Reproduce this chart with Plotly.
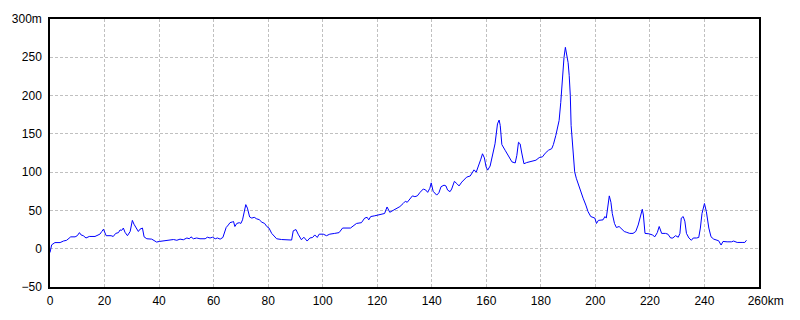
import plotly.graph_objects as go

distance_km = [
    0.0, 0.3, 0.6, 1.8, 3.7, 4.9, 6.1, 7.6, 9.2, 10.0, 10.8, 11.4, 12.2, 13.2, 14.4, 16.5, 17.4, 18.3, 19.0, 19.6,
    20.6, 21.4, 22.4, 23.2, 24.1, 25.1, 25.7, 26.3, 26.9, 27.5, 28.4, 29.4, 30.2, 30.8, 31.6, 32.4, 33.0, 33.9,
    34.5, 35.5, 37.3, 38.2, 39.1, 40.1, 41.6, 44.0, 45.3, 46.5, 47.7, 48.9, 50.2, 51.1, 51.7, 52.6, 53.8, 55.0,
    56.9, 57.7, 58.7, 59.6, 60.6, 61.4, 62.4, 63.4, 64.6, 65.4, 66.0, 66.9, 67.3, 67.8, 68.5, 69.4, 70.0, 70.6,
    71.2, 71.8, 72.4, 73.2, 74.0, 74.9, 75.8, 76.7, 77.7, 78.7, 79.5, 80.3, 81.3, 82.2, 83.1, 84.9, 86.7, 88.6,
    89.2, 90.2, 91.0, 92.2, 93.1, 94.3, 95.3, 96.3, 97.1, 98.0, 98.7, 100.2, 101.4, 102.6, 104.4, 106.0, 107.3,
    110.2, 112.4, 114.2, 115.4, 116.3, 116.9, 117.6, 119.1, 120.9, 122.7, 123.6, 124.6, 125.8, 127.0, 128.3,
    129.5, 130.3, 131.0, 131.9, 132.9, 133.8, 134.7, 135.7, 136.9, 137.8, 138.5, 139.3, 139.8, 140.5, 141.8,
    142.6, 143.4, 144.5, 145.2, 145.8, 146.7, 147.3, 148.3, 149.2, 150.0, 151.0, 151.9, 152.8, 154.1, 154.9,
    155.5, 156.3, 157.1, 158.0, 158.6, 159.3, 159.9, 160.5, 161.4, 162.4, 163.2, 164.1, 164.7, 165.1, 165.7,
    166.9, 168.2, 169.4, 170.6, 171.2, 171.8, 172.4, 173.0, 173.8, 174.8, 175.8, 177.0, 178.2, 179.4, 180.6,
    181.6, 182.8, 184.0, 184.6, 185.5, 186.1, 186.7, 187.3, 187.9, 188.5, 189.0, 189.5, 190.0, 190.4, 190.8,
    191.1, 191.6, 192.0, 192.4, 193.0, 193.8, 194.6, 195.5, 196.5, 197.3, 198.3, 199.1, 199.8, 200.4, 201.1,
    202.8, 203.5, 204.0, 204.5, 205.1, 205.7, 206.2, 207.0, 207.7, 208.7, 209.6, 210.6, 211.3, 212.6, 213.8,
    214.8, 215.7, 216.6, 217.2, 217.6, 218.2, 219.6, 220.9, 221.8, 222.7, 223.4, 224.3, 225.7, 226.6, 227.6,
    228.4, 229.4, 230.4, 231.0, 231.5, 232.2, 232.8, 233.4, 234.3, 235.2, 235.9, 237.1, 237.9, 238.5, 239.1,
    240.0, 240.7, 241.6, 242.4, 243.4, 244.6, 245.2, 246.1, 246.8, 248.3, 249.9, 250.7, 252.0, 253.8, 254.8,
    255.4,
]

elevation_m = [
    -5, 4, 5, 8, 8, 10, 11, 15.5, 15.5, 17, 21, 18, 17, 14, 16, 16, 18, 19, 22.5, 25.5,
    17, 17, 17, 16, 20, 21, 24.5, 24, 27, 21.5, 17, 22.5, 37, 32, 27.7, 22.5, 25.5, 27,
    15.5, 13, 12.5, 11, 8.7, 9.5, 10.4, 11, 12, 11, 12.5, 11.7, 14, 13, 15.5, 13, 14, 13,
    13, 15, 14, 15, 13, 14, 12.5, 14.7, 27.7, 31, 34, 35, 35.5, 29, 33, 34, 33, 37.7,
    48.5, 57.6, 53, 41.5, 40, 41, 39, 38, 34.6, 33, 29, 27, 20, 16.5, 13, 12, 12, 11.3,
    23.4, 25, 19, 11.7, 15, 10, 14, 14.7, 18, 14.7, 19, 19, 17, 19, 20, 21, 27,
    27, 33, 34, 40, 41, 37.7, 42, 43, 45, 46, 54.5, 47.6, 50, 52, 55,
    59, 62, 60.6, 65, 69, 68, 69, 73.6, 78, 76.6, 73.6, 79, 86, 75, 70,
    73, 81, 83, 82, 76.6, 74.5, 78, 88, 85, 82, 87, 91, 93.5, 95, 100,
    103, 100, 107, 117, 124, 118.6, 107, 102.6, 108, 122, 137, 163, 168, 161, 136,
    128.6, 120, 113.4, 112, 122, 139, 137, 125, 111, 112.5, 113.4, 114.7, 115.6, 119, 120,
    124.7, 128.6, 130.7, 136, 148, 156.7, 167.5, 191, 224, 250, 263, 254, 243, 226, 200,
    161, 135, 113.4, 100.4, 92, 83, 76.6, 66, 57, 48.5, 42, 41, 40, 33, 37,
    37.7, 42, 40, 52, 69, 60.6, 46, 33, 27.7, 29, 26, 22.5, 21.6, 20, 20,
    22.5, 31, 44, 51.5, 44, 20, 19.5, 18, 15.6, 21, 29, 20, 20, 19, 14,
    14, 17, 15, 20, 40, 42, 36, 20, 14, 11, 14, 14, 14.7, 27, 46,
    59, 48.5, 27, 15.6, 12.5, 11.3, 10.4, 4.8, 9.5, 9, 9, 10, 8.2, 8.2, 8.2,
    11,
]

x_ticks = [0, 20, 40, 60, 80, 100, 120, 140, 160, 180, 200, 220, 240, 260]
x_tick_labels = ["0", "20", "40", "60", "80", "100", "120", "140", "160", "180",
                 "200", "220", "240", "\u2007\u2007260km"]
y_ticks = [-50, 0, 50, 100, 150, 200, 250, 300]
y_tick_labels = ["\u221250", "0", "50", "100", "150", "200", "250", "300m"]

fig = go.Figure()
fig.add_trace(go.Scatter(
    x=distance_km, y=elevation_m, mode="lines",
    line=dict(color="#0000ff", width=1),
    hoverinfo="skip", showlegend=False,
))

font = dict(family="Liberation Sans, Arial, sans-serif", size=12, color="#000000")
fig.update_layout(
    width=800, height=320,
    margin=dict(l=50, r=41, t=19, b=30),
    paper_bgcolor="#ffffff", plot_bgcolor="#ffffff",
    font=font,
)
fig.update_xaxes(
    range=[0, 260], tickvals=x_ticks, ticktext=x_tick_labels,
    showgrid=True, gridcolor="#c0c0c0", griddash="3px,2px", gridwidth=1,
    showline=True, linecolor="#000000", linewidth=1.5, mirror=True,
    ticks="", zeroline=False, tickfont=font, ticklabelstandoff=2,
)
fig.update_yaxes(
    range=[-50, 300], tickvals=y_ticks, ticktext=y_tick_labels,
    showgrid=True, gridcolor="#c0c0c0", griddash="3px,2px", gridwidth=1,
    showline=True, linecolor="#000000", linewidth=1.5, mirror=True,
    ticks="", zeroline=False, tickfont=font, ticklabelstandoff=4,
)

fig.write_html("out.html")
